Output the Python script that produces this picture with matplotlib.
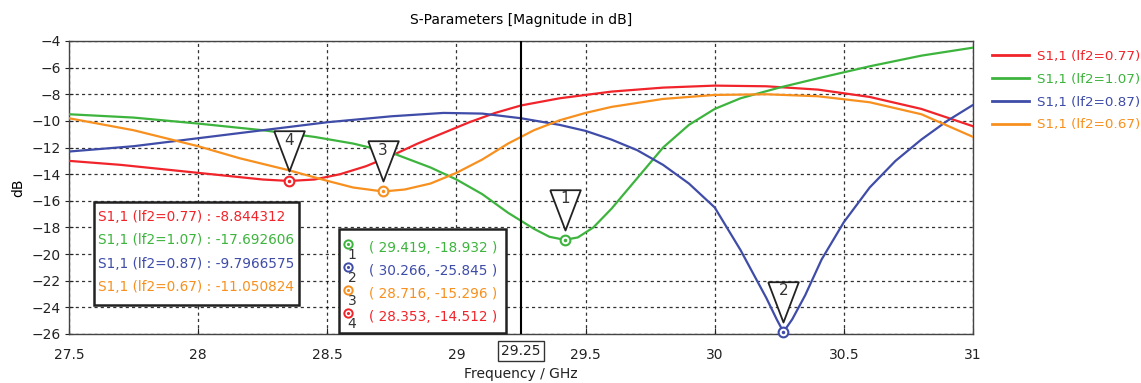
import numpy as np
import matplotlib
matplotlib.use("Agg")
import matplotlib.pyplot as plt
from matplotlib.patches import Rectangle
from matplotlib.transforms import offset_copy

W, H = 1141, 383

# S1,1 curves (frequency in GHz, magnitude in dB)
f_077 = [27.5, 27.7, 27.9, 28.1, 28.25, 28.353, 28.45, 28.55, 28.65, 28.75, 28.85, 28.95,
         29.05, 29.15, 29.25, 29.4, 29.6, 29.8, 30.0, 30.2, 30.4, 30.6, 30.8, 31.0]
s_077 = [-13.0, -13.3, -13.7, -14.1, -14.4, -14.51, -14.4, -14.0, -13.4, -12.6, -11.7, -10.9,
         -10.1, -9.4, -8.84, -8.3, -7.8, -7.5, -7.35, -7.4, -7.65, -8.2, -9.1, -10.4]

f_107 = [27.5, 27.75, 28.0, 28.25, 28.45, 28.6, 28.75, 28.9, 29.0, 29.1, 29.2, 29.3, 29.36,
         29.419, 29.47, 29.53, 29.6, 29.7, 29.8, 29.9, 30.0, 30.1, 30.25, 30.4, 30.6, 30.8, 31.0]
s_107 = [-9.5, -9.75, -10.2, -10.7, -11.2, -11.7, -12.4, -13.5, -14.4, -15.5, -16.9, -18.1, -18.7,
         -18.93, -18.75, -18.0, -16.6, -14.3, -12.0, -10.3, -9.1, -8.3, -7.5, -6.8, -5.9, -5.1, -4.5]

f_087 = [27.5, 27.75, 28.0, 28.25, 28.5, 28.75, 28.95, 29.1, 29.25, 29.4, 29.5, 29.6, 29.7,
         29.8, 29.9, 30.0, 30.1, 30.2, 30.24, 30.266, 30.3, 30.35, 30.414, 30.5, 30.6, 30.7,
         30.8, 30.9, 31.0]
s_087 = [-12.3, -11.9, -11.3, -10.7, -10.1, -9.65, -9.4, -9.45, -9.8, -10.3, -10.75, -11.4, -12.2,
         -13.3, -14.7, -16.5, -19.7, -23.3, -24.9, -25.85, -24.9, -23.1, -20.4, -17.6, -15.0, -13.0,
         -11.4, -10.0, -8.8]

f_067 = [27.5, 27.75, 28.0, 28.16, 28.35, 28.5, 28.6, 28.716, 28.8, 28.9, 29.0, 29.1, 29.2,
         29.3, 29.4, 29.5, 29.6, 29.8, 30.0, 30.2, 30.4, 30.6, 30.8, 31.0]
s_067 = [-9.8, -10.7, -11.9, -12.8, -13.7, -14.5, -15.0, -15.3, -15.15, -14.7, -13.9, -12.9, -11.7,
         -10.7, -9.95, -9.4, -8.95, -8.35, -8.05, -8.0, -8.15, -8.6, -9.5, -11.2]

labels = ["S1,1 (lf2=0.77)", "S1,1 (lf2=1.07)", "S1,1 (lf2=0.87)", "S1,1 (lf2=0.67)"]
colors = ["#f0242a", "#3db43d", "#3f4ca8", "#f7901e"]

# cursor at 29.25 GHz
cursor_f = 29.25
cursor_vals = ["-8.844312", "-17.692606", "-9.7966575", "-11.050824"]

# markers: (number, series index, freq, dB)
mark_num = ["1", "2", "3", "4"]
mark_series = [1, 2, 3, 0]
mark_f = [29.419, 30.266, 28.716, 28.353]
mark_db = [-18.932, -25.845, -15.296, -14.512]

xticks = [27.5, 28, 28.5, 29, 29.5, 30, 30.5, 31]
xtick_labels = ["27.5", "28", "28.5", "29", "29.5", "30", "30.5", "31"]
yticks = list(range(-26, -3, 2))


def fx(x):
    return x / W


def fy(y):
    return 1 - y / H


plt.rcParams["font.family"] = ["DejaVu Sans"]
plt.rcParams["font.size"] = 9.5

fig = plt.figure(figsize=(W / 100, H / 100), dpi=100)
ax = fig.add_axes([fx(69), fy(334), fx(973) - fx(69), fy(41) - fy(334)])

series = [(f_077, s_077), (f_107, s_107), (f_087, s_087), (f_067, s_067)]
for (f, s), lab, c in zip(series, labels, colors):
    ax.plot(f, s, color=c, lw=1.6, label=lab, zorder=3)

ax.axvline(cursor_f, color="black", lw=1.5, zorder=4)

ax.set_xlim(27.5, 31)
ax.set_ylim(-26, -4)
ax.set_xticks(xticks)
ax.set_xticklabels(xtick_labels)
ax.set_yticks(yticks)
ax.grid(True, color="black", ls=(0, (2.5, 2.5)), lw=0.9, alpha=0.8)
ax.tick_params(axis="x", direction="in", length=4, pad=10, labelsize=10, colors="#222222")
ax.tick_params(axis="y", direction="inout", length=6, pad=3, labelsize=10, colors="#222222")
for sp in ax.spines.values():
    sp.set_color("#444444")
    sp.set_linewidth(1.0)

ax.set_title("S-Parameters [Magnitude in dB]", fontsize=10, pad=12)
ax.set_ylabel("dB", fontsize=10, labelpad=4)
fig.text(fx(521), fy(374), "Frequency / GHz", ha="center", va="center", fontsize=10,
         color="#222222")

# boxed cursor tick label
ax.text(cursor_f, -26.75, "29.25", ha="center", va="top", fontsize=10, color="#222222",
        bbox=dict(boxstyle="square,pad=0.25", fc="white", ec="#333333", lw=1.0))

# markers with triangle labels
tri = [(-0.38, 1.0), (0.38, 1.0), (0.0, 0.0), (-0.38, 1.0)]
tri_tr = offset_copy(ax.transData, fig=fig, x=0, y=10, units="dots")
for num, si, f, d in zip(mark_num, mark_series, mark_f, mark_db):
    c = colors[si]
    ax.plot([f], [d], marker="o", ms=7, mfc="white", mec=c, mew=1.5, clip_on=False, zorder=6)
    ax.plot([f], [d], marker=".", ms=3, color=c, clip_on=False, zorder=7)
    ax.plot([f], [d], marker=tri, ms=58, mfc="white", mec="#222222", mew=1.3,
            transform=tri_tr, clip_on=False, zorder=5)
    ax.annotate(num, xy=(f, d), xytext=(0, 41), textcoords="offset pixels",
                ha="center", va="center", fontsize=11, color="#333333", zorder=8)

# cursor readout box
ax.add_patch(Rectangle((fx(94), fy(305)), fx(299) - fx(94), fy(202) - fy(305),
                       transform=fig.transFigure, fc="white", ec="#222222", lw=1.8,
                       clip_on=False, zorder=9))
for i, (lab, c, v) in enumerate(zip(labels, colors, cursor_vals)):
    ax.text(fx(98), fy(217 + 23.3 * i), f"{lab} : {v}", transform=fig.transFigure,
            color=c, ha="left", va="center", fontsize=9.8, zorder=10)

# marker readout box
ax.add_patch(Rectangle((fx(339), fy(333)), fx(506) - fx(339), fy(229) - fy(333),
                       transform=fig.transFigure, fc="white", ec="#222222", lw=1.8,
                       clip_on=False, zorder=9))
row_y = [244, 267, 290, 313]
for i, (num, si, f, d) in enumerate(zip(mark_num, mark_series, mark_f, mark_db)):
    c = colors[si]
    ax.plot([fx(348)], [fy(row_y[i])], marker="o", ms=6, mfc="white", mec=c, mew=1.4,
            transform=fig.transFigure, clip_on=False, zorder=10)
    ax.plot([fx(348)], [fy(row_y[i])], marker=".", ms=2.5, color=c,
            transform=fig.transFigure, clip_on=False, zorder=11)
    ax.text(fx(352), fy(row_y[i] + 11), num, transform=fig.transFigure, color="#333333",
            ha="center", va="center", fontsize=10, zorder=11)
    ax.text(fx(369), fy(row_y[i] + 4), f"( {f:.3f}, {d:.3f} )", transform=fig.transFigure,
            color=c, ha="left", va="center", fontsize=9.8, zorder=11)

leg = fig.legend(loc="upper left", bbox_to_anchor=(fx(980), fy(38)), frameon=False,
                 fontsize=9.7, handlelength=2.7, handletextpad=0.6, labelspacing=0.72,
                 labelcolor="linecolor")
for ln in leg.get_lines():
    ln.set_linewidth(2.0)

fig.savefig("out.png", dpi=100)
plt.close(fig)
